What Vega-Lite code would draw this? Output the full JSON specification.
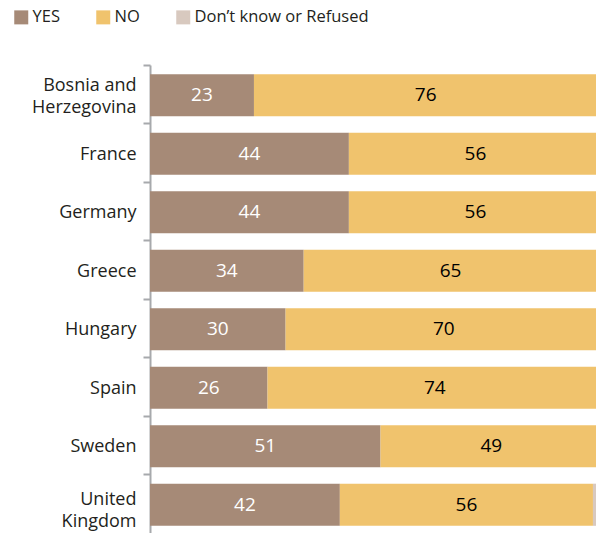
{
  "$schema": "https://vega.github.io/schema/vega-lite/v6.json",
  "width": 452,
  "height": 468,
  "autosize": "none",
  "padding": {"left": 150, "top": 65, "right": 0, "bottom": 0},
  "background": "white",
  "config": {
    "view": {"stroke": null},
    "font": "Open Sans"
  },
  "data": {
    "values": [
      {"country": "Bosnia and Herzegovina", "response": "YES", "order": 1, "value": 23},
      {"country": "Bosnia and Herzegovina", "response": "NO", "order": 2, "value": 76},
      {"country": "Bosnia and Herzegovina", "response": "Don’t know or Refused", "order": 3, "value": 1},
      {"country": "France", "response": "YES", "order": 1, "value": 44},
      {"country": "France", "response": "NO", "order": 2, "value": 56},
      {"country": "France", "response": "Don’t know or Refused", "order": 3, "value": 0},
      {"country": "Germany", "response": "YES", "order": 1, "value": 44},
      {"country": "Germany", "response": "NO", "order": 2, "value": 56},
      {"country": "Germany", "response": "Don’t know or Refused", "order": 3, "value": 0},
      {"country": "Greece", "response": "YES", "order": 1, "value": 34},
      {"country": "Greece", "response": "NO", "order": 2, "value": 65},
      {"country": "Greece", "response": "Don’t know or Refused", "order": 3, "value": 1},
      {"country": "Hungary", "response": "YES", "order": 1, "value": 30},
      {"country": "Hungary", "response": "NO", "order": 2, "value": 70},
      {"country": "Hungary", "response": "Don’t know or Refused", "order": 3, "value": 0},
      {"country": "Spain", "response": "YES", "order": 1, "value": 26},
      {"country": "Spain", "response": "NO", "order": 2, "value": 74},
      {"country": "Spain", "response": "Don’t know or Refused", "order": 3, "value": 0},
      {"country": "Sweden", "response": "YES", "order": 1, "value": 51},
      {"country": "Sweden", "response": "NO", "order": 2, "value": 49},
      {"country": "Sweden", "response": "Don’t know or Refused", "order": 3, "value": 0},
      {"country": "United Kingdom", "response": "YES", "order": 1, "value": 42},
      {"country": "United Kingdom", "response": "NO", "order": 2, "value": 56},
      {"country": "United Kingdom", "response": "Don’t know or Refused", "order": 3, "value": 2}
    ]
  },
  "transform": [
    {"stack": "value", "groupby": ["country"], "sort": [{"field": "order", "order": "ascending"}], "as": ["x0", "x1"]},
    {"calculate": "(datum.x0 + datum.x1) / 2", "as": "mid"}
  ],
  "encoding": {
    "y": {
      "field": "country",
      "type": "nominal",
      "sort": null,
      "title": null,
      "scale": {"paddingInner": 0, "paddingOuter": 0},
      "axis": {
        "bandPosition": 0,
        "domainColor": "#a7a9ac",
        "domainWidth": 2,
        "tickColor": "#a7a9ac",
        "tickWidth": 2,
        "tickSize": 7,
        "labelPadding": 7,
        "labelFontSize": 18,
        "labelColor": "#231f20",
        "labelLineHeight": 22,
        "labelLimit": 200,
        "labelOffset": {
          "condition": [
            {"test": "datum.value == 'Bosnia and Herzegovina'", "value": -8},
            {"test": "datum.value == 'United Kingdom'", "value": -4}
          ],
          "value": 2
        },
        "labelExpr": "datum.value == 'Bosnia and Herzegovina' ? ['Bosnia and', 'Herzegovina'] : datum.value == 'United Kingdom' ? ['United', 'Kingdom'] : datum.value"
      }
    }
  },
  "layer": [
    {
      "mark": {"type": "bar", "height": {"band": 0.72}, "yOffset": 1},
      "encoding": {
        "x": {"field": "x0", "type": "quantitative", "scale": {"domain": [0, 100], "nice": false}, "axis": null},
        "x2": {"field": "x1"},
        "color": {
          "field": "response",
          "type": "nominal",
          "scale": {"domain": ["YES", "NO", "Don’t know or Refused"], "range": ["#a68a77", "#f0c36d", "#d8c9bf"]},
          "legend": {
            "title": null,
            "orient": "none",
            "direction": "horizontal",
            "legendX": -137,
            "legendY": -56,
            "symbolType": "square",
            "symbolSize": 196,
            "symbolStrokeWidth": 0,
            "symbolOpacity": 1,
            "labelFontSize": 16.5,
            "labelColor": "#231f20",
            "labelOffset": 3,
            "columnPadding": 35,
            "labelLimit": 300
          }
        }
      }
    },
    {
      "transform": [{"filter": "datum.response != 'Don’t know or Refused'"}],
      "mark": {"type": "text", "fontSize": 19, "baseline": "middle", "align": "center", "dy": 1},
      "encoding": {
        "x": {"field": "mid", "type": "quantitative"},
        "text": {"field": "value", "type": "quantitative"},
        "color": {
          "condition": {"test": "datum.response == 'YES'", "value": "#ffffff"},
          "value": "#000000"
        }
      }
    }
  ]
}
